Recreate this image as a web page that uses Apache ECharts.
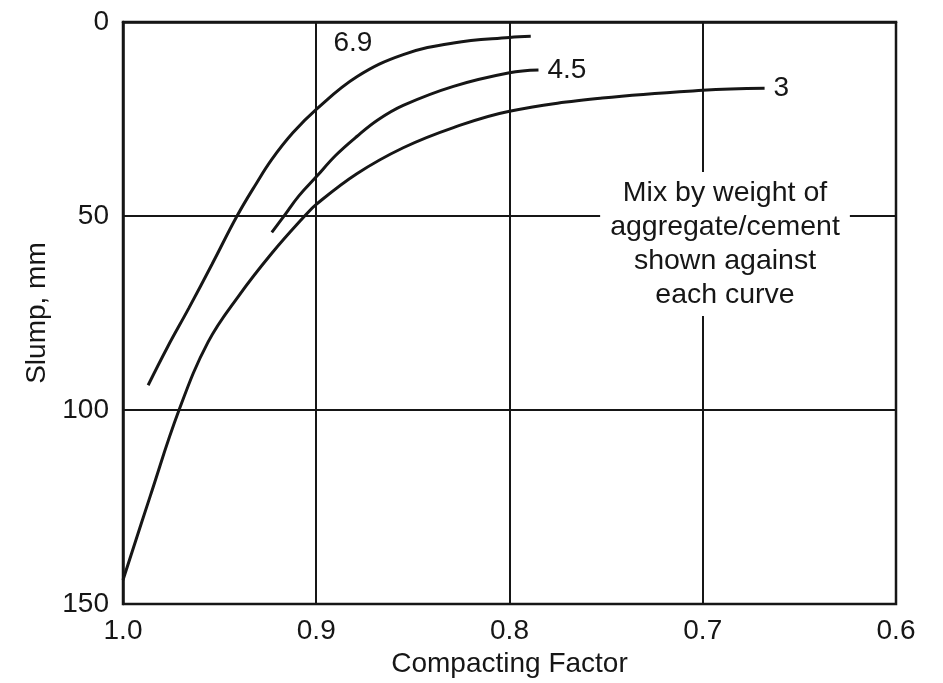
<!DOCTYPE html>
<html>
<head>
<meta charset="utf-8">
<script src="https://cdn.jsdelivr.net/npm/echarts@6/dist/echarts.min.js"></script>
<style>
  html, body { margin: 0; padding: 0; background: #fff; }
  #chart { width: 943px; height: 683px; }
</style>
</head>
<body>
<div id="chart"></div>
<script>
// ---- Data ----
const xTicks = [1.0, 0.9, 0.8, 0.7, 0.6];
const yTicks = [0, 50, 100, 150];

const mixLabels = ['6.9', '4.5', '3'];

const cf69 = [0.987, 0.977, 0.966, 0.954, 0.941, 0.931, 0.923, 0.912, 0.900, 0.879, 0.855, 0.829, 0.800, 0.789];
const slump69 = [93.6, 83.8, 73.8, 62.5, 50.0, 41.6, 35.4, 28.5, 22.5, 14.1, 8.4, 5.4, 4.0, 3.7];

const cf45 = [0.923, 0.917, 0.909, 0.900, 0.890, 0.879, 0.868, 0.855, 0.829, 0.800, 0.785];
const slump45 = [54.2, 50.2, 44.8, 39.9, 34.4, 29.5, 25.2, 21.5, 16.6, 13.1, 12.4];

const cf3 = [1.000, 0.986, 0.971, 0.956, 0.940, 0.923, 0.906, 0.900, 0.879, 0.855, 0.829, 0.800, 0.752, 0.700, 0.668];
const slump3 = [143.8, 122.3, 100.0, 82.5, 70.5, 59.6, 50.0, 47.0, 39.1, 32.4, 27.2, 23.0, 19.6, 17.6, 17.1];

const noteText = ['Mix by weight of', 'aggregate/cement', 'shown against', 'each curve'];

// ---- Build ----
const zip = (xs, ys) => xs.map((x, i) => [x, ys[i]]);
const FONT = 'Liberation Sans, Arial, Helvetica, sans-serif';
const INK = '#161616';

function curve(name, xs, ys, labelCfg) {
  return {
    name: name,
    type: 'line',
    data: zip(xs, ys),
    smooth: 0.4,
    showSymbol: false,
    silent: true,
    lineStyle: { color: INK, width: 3 },
    markPoint: {
      symbol: 'circle',
      symbolSize: 0,
      silent: true,
      label: Object.assign({
        show: true,
        formatter: name,
        color: INK,
        fontFamily: FONT,
        fontSize: 28
      }, labelCfg.label),
      data: [{ coord: labelCfg.coord }]
    }
  };
}

const chart = echarts.init(document.getElementById('chart'), null, { renderer: 'canvas' });

chart.setOption({
  animation: false,
  backgroundColor: '#fff',
  grid: {
    left: 123, right: 47, top: 22, bottom: 78,
    show: true, borderColor: INK, borderWidth: 2.5, backgroundColor: 'transparent'
  },
  xAxis: {
    type: 'value',
    inverse: true,
    min: 0.6, max: 1.0, interval: 0.1,
    name: 'Compacting Factor',
    nameLocation: 'middle',
    nameGap: 44,
    nameTextStyle: { color: INK, fontFamily: FONT, fontSize: 28 },
    axisLine: { show: true, lineStyle: { color: INK, width: 2.5 } },
    axisTick: { show: false },
    axisLabel: {
      color: INK, fontFamily: FONT, fontSize: 28, margin: 13,
      showMinLabel: true, showMaxLabel: true,
      formatter: v => (Math.round(v * 10) / 10).toFixed(1)
    },
    splitLine: { show: true, lineStyle: { color: INK, width: 2 } }
  },
  yAxis: {
    type: 'value',
    inverse: true,
    min: 0, max: 150, interval: 50,
    name: 'Slump, mm',
    nameLocation: 'middle',
    nameGap: 72,
    nameRotate: 90,
    nameTextStyle: { color: INK, fontFamily: FONT, fontSize: 28 },
    axisLine: { show: true, lineStyle: { color: INK, width: 2.5 } },
    axisTick: { show: false },
    axisLabel: { color: INK, fontFamily: FONT, fontSize: 28, margin: 14 },
    splitLine: { show: true, lineStyle: { color: INK, width: 2 } }
  },
  series: [
    curve(mixLabels[0], cf69, slump69, { coord: [0.881, 5.6], label: { position: 'inside' } }),
    curve(mixLabels[1], cf45, slump45, { coord: [cf45[cf45.length - 1], slump45[slump45.length - 1]], label: { position: 'right', distance: 9 } }),
    curve(mixLabels[2], cf3, slump3, { coord: [cf3[cf3.length - 1], slump3[slump3.length - 1]], label: { position: 'right', distance: 9 } })
  ],
  graphic: [{
    type: 'text',
    z: 100,
    x: 725,
    y: 244,
    style: {
      text: noteText.join('\n'),
      fill: INK,
      font: '28.5px ' + FONT,
      align: 'center',
      verticalAlign: 'middle',
      lineHeight: 34,
      backgroundColor: '#fff',
      padding: [4, 10, 4, 10]
    }
  }]
});
</script>
</body>
</html>
